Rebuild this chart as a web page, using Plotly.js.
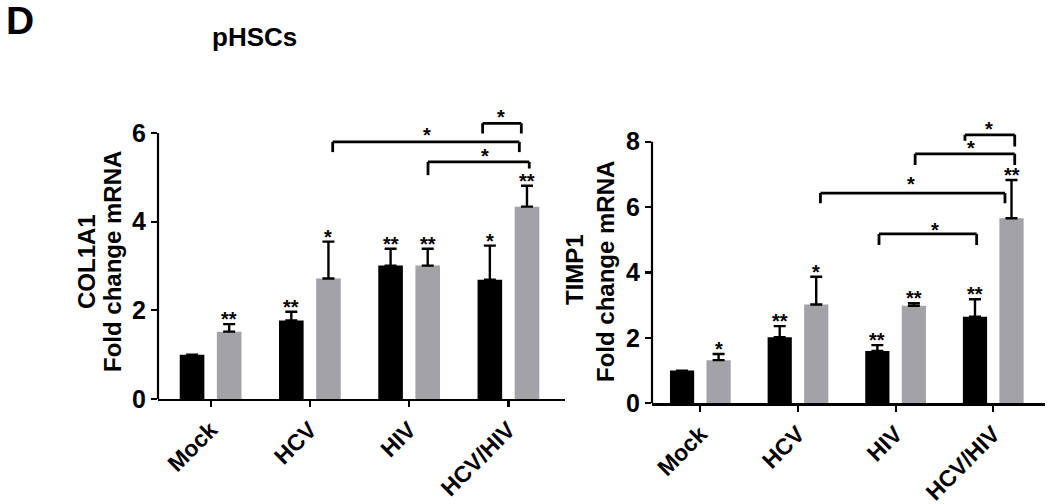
<!DOCTYPE html>
<html>
<head>
<meta charset="utf-8">
<script src="https://cdn.plot.ly/plotly-3.0.1.min.js"></script>
<style>html,body{margin:0;padding:0;background:#fff;}#chart{width:1050px;height:504px;}</style>
</head>
<body>
<div id="chart"></div>
<script>
// ---- data ----
const categories = ['Mock', 'HCV', 'HIV', 'HCV/HIV'];

const col1a1Black    = [1.00, 1.77, 3.01, 2.69];
const col1a1BlackErr = [0.00, 0.20, 0.38, 0.77];
const col1a1Gray     = [1.52, 2.72, 3.01, 4.34];
const col1a1GrayErr  = [0.17, 0.83, 0.38, 0.47];
const col1a1BlackSig = ['', '**', '**', '*'];
const col1a1GraySig  = ['**', '*', '**', '**'];

const timp1Black    = [1.00, 2.02, 1.60, 2.65];
const timp1BlackErr = [0.00, 0.34, 0.18, 0.53];
const timp1Gray     = [1.32, 3.02, 2.98, 5.66];
const timp1GrayErr  = [0.19, 0.85, 0.08, 1.17];
const timp1BlackSig = ['', '**', '**', '**'];
const timp1GraySig  = ['*', '*', '**', '**'];

// significance brackets (x in category index units, y in data units)
const col1a1BrX0   = [2.74, 1.23, 2.19];
const col1a1BrX1   = [3.13, 3.11, 3.21];
const col1a1BrY    = [6.22, 5.80, 5.35];
const col1a1BrLegL = [5.99, 5.57, 5.05];
const col1a1BrLegR = [5.99, 5.57, 5.20];
const col1a1BrStarX = [2.93, 2.18, 2.76];
const col1a1BrStarY = [6.46, 6.05, 5.58];
const col1a1BrLabel = ['*', '*', '*'];

const timp1BrX0   = [2.71, 2.20, 1.23, 1.83];
const timp1BrX1   = [3.22, 3.22, 3.12, 2.83];
const timp1BrY    = [8.21, 7.63, 6.43, 5.18];
const timp1BrLegL = [8.03, 7.29, 6.12, 4.84];
const timp1BrLegR = [7.85, 7.29, 6.12, 4.84];
const timp1BrStarX = [2.96, 2.77, 2.16, 2.40];
const timp1BrStarY = [8.51, 7.92, 6.83, 5.42];
const timp1BrLabel = ['*', '*', '*', '*'];

const yTicksLeft = [0, 2, 4, 6];
const yTicksRight = [0, 2, 4, 6, 8];

// ---- styling ----
const FONT = '"Liberation Sans", Arial, sans-serif';
const BLACK = '#000000';
const GRAY = '#a2a2a7';
const BAR_OFFSET = 0.187;
const zeros = categories.map(() => 0);

function barTrace(vals, errs, color, xa, ya) {
  return {
    type: 'bar', x: categories, y: vals, xaxis: xa, yaxis: ya,
    marker: {color: color, line: {width: 0}},
    error_y: {type: 'data', symmetric: false, array: errs, arrayminus: zeros,
              color: BLACK, thickness: 2.4, width: 6},
    hoverinfo: 'none'
  };
}

const data = [
  barTrace(col1a1Black, col1a1BlackErr, BLACK, 'x', 'y'),
  barTrace(col1a1Gray, col1a1GrayErr, GRAY, 'x', 'y'),
  barTrace(timp1Black, timp1BlackErr, BLACK, 'x2', 'y2'),
  barTrace(timp1Gray, timp1GrayErr, GRAY, 'x2', 'y2')
];

const shapes = [];
const annotations = [];
const STAR_FONT = {family: FONT, size: 20, color: BLACK, weight: 'bold'};

function addBrackets(xr, yr, X0, X1, Y, LL, LR, SX, SY, L) {
  for (let i = 0; i < X0.length; i++) {
    const ln = {color: BLACK, width: 2.8};
    shapes.push({type: 'line', xref: xr, yref: yr, x0: X0[i], x1: X0[i], y0: LL[i], y1: Y[i], line: ln});
    shapes.push({type: 'line', xref: xr, yref: yr, x0: X0[i], x1: X1[i], y0: Y[i], y1: Y[i], line: ln});
    shapes.push({type: 'line', xref: xr, yref: yr, x0: X1[i], x1: X1[i], y0: Y[i], y1: LR[i], line: ln});
    annotations.push({xref: xr, yref: yr, x: SX[i], y: SY[i], text: L[i], showarrow: false,
      xanchor: 'center', yanchor: 'middle', yshift: -4, font: STAR_FONT});
  }
}
function addBarStars(xr, yr, vals, errs, sig, side) {
  for (let i = 0; i < vals.length; i++) {
    if (!sig[i]) continue;
    annotations.push({xref: xr, yref: yr, x: i + side * BAR_OFFSET, y: vals[i] + errs[i],
      text: sig[i], showarrow: false, xanchor: 'center', yanchor: 'middle', yshift: 5,
      font: STAR_FONT});
  }
}
addBrackets('x', 'y', col1a1BrX0, col1a1BrX1, col1a1BrY, col1a1BrLegL, col1a1BrLegR, col1a1BrStarX, col1a1BrStarY, col1a1BrLabel);
addBrackets('x2', 'y2', timp1BrX0, timp1BrX1, timp1BrY, timp1BrLegL, timp1BrLegR, timp1BrStarX, timp1BrStarY, timp1BrLabel);
addBarStars('x', 'y', col1a1Black, col1a1BlackErr, col1a1BlackSig, -1);
addBarStars('x', 'y', col1a1Gray, col1a1GrayErr, col1a1GraySig, 1);
addBarStars('x2', 'y2', timp1Black, timp1BlackErr, timp1BlackSig, -1);
addBarStars('x2', 'y2', timp1Gray, timp1GrayErr, timp1GraySig, 1);

// y axis lines only up to the last tick
shapes.push({type: 'line', xref: 'x domain', yref: 'y', x0: 0, x1: 0, y0: 0, y1: yTicksLeft[yTicksLeft.length - 1], line: {color: BLACK, width: 2.2}});
shapes.push({type: 'line', xref: 'x2 domain', yref: 'y2', x0: 0, x1: 0, y0: 0, y1: yTicksRight[yTicksRight.length - 1], line: {color: BLACK, width: 2.2}});

function txt(x, y, text, size, angle, xanchor) {
  annotations.push({xref: 'paper', yref: 'paper', x: x / 1050, y: 1 - y / 504, text: text,
    showarrow: false, textangle: angle || 0, xanchor: xanchor || 'center', yanchor: 'middle',
    borderpad: 0, font: {family: FONT, size: size, color: BLACK, weight: 'bold'}});
}
txt(5, 21, 'D', 39, 0, 'left');
txt(211, 37, 'pHSCs', 26, 0, 'left');
txt(86, 262, 'COL1A1', 24, -90);
txt(112, 262, 'Fold change mRNA', 24, -90);
txt(574, 270, 'TIMP1', 24, -90);
txt(605, 272, 'Fold change mRNA', 24, -90);

function xAxis(domain, range, anchor) {
  return {domain: domain, range: range, type: 'category', anchor: anchor,
    showline: true, linecolor: BLACK, linewidth: 2.2, ticks: 'outside', ticklen: 6, tickwidth: 2.2,
    tickcolor: BLACK, tickangle: -45, showgrid: false, zeroline: false, fixedrange: true,
    tickfont: {family: FONT, size: 23, color: BLACK, weight: 'bold'}};
}
function yAxis(domain, range, ticks, anchor) {
  return {domain: domain, range: range, anchor: anchor, tickmode: 'array', tickvals: ticks,
    showline: false, ticks: 'outside', ticklen: 6, tickwidth: 2.2, tickcolor: BLACK,
    showgrid: false, zeroline: false, fixedrange: true,
    tickfont: {family: FONT, size: 25, color: BLACK, weight: 'bold'}};
}

const layout = {
  width: 1050, height: 504,
  margin: {l: 0, r: 0, t: 0, b: 0},
  paper_bgcolor: '#ffffff', plot_bgcolor: '#ffffff',
  showlegend: false,
  barmode: 'group', bargap: 0.252, bargroupgap: 0.337,
  xaxis: xAxis([158 / 1050, 565 / 1050], [-0.53, 3.57], 'y'),
  yaxis: yAxis([1 - 399 / 504, 1 - 110.9 / 504], [0, 6.5], yTicksLeft, 'x'),
  xaxis2: xAxis([652 / 1050, 1045 / 1050], [-0.495, 3.53], 'y2'),
  yaxis2: yAxis([1 - 403.3 / 504, 1 - 122.1 / 504], [0, 8.6], yTicksRight, 'x2'),
  shapes: shapes,
  annotations: annotations
};

Plotly.newPlot('chart', data, layout, {staticPlot: true, displayModeBar: false});
</script>
</body>
</html>
